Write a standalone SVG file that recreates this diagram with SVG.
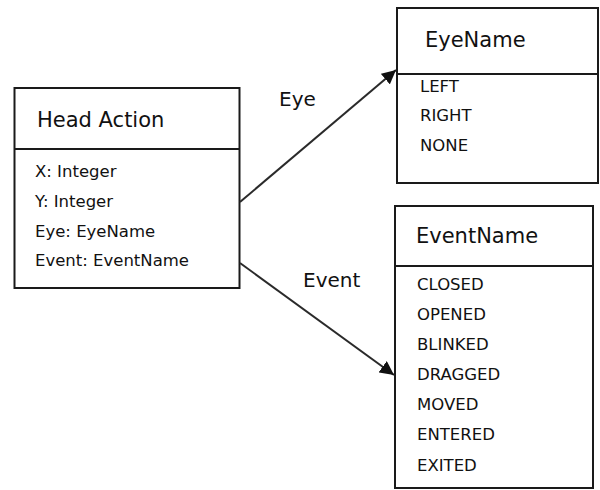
<svg xmlns="http://www.w3.org/2000/svg" width="600" height="490" viewBox="0 0 600 490">
<style>
.box{fill:#fff;stroke:#1a1a1a;stroke-width:2}
.div{stroke:#1a1a1a;stroke-width:2}
.title{font-family:"DejaVu Sans",sans-serif;font-size:21px;fill:#111}
.item{font-family:"DejaVu Sans",sans-serif;font-size:16.5px;fill:#111}
.lbl{font-family:"DejaVu Sans",sans-serif;font-size:20px;fill:#111}
.conn{stroke:#2a2a2a;stroke-width:2;fill:none}
</style>
<defs>
<marker id="arr" viewBox="0 0 10 10" refX="10" refY="5" markerWidth="7" markerHeight="7" orient="auto" markerUnits="strokeWidth">
<path d="M0,0 L10,5 L0,10 z" fill="#111"/>
</marker>
</defs>
<rect width="600" height="490" fill="#fff"/>
<g id="head-action">
<rect class="box" x="14.5" y="88" width="225" height="200"/>
<line class="div" x1="14.5" y1="149" x2="239.5" y2="149"/>
<text class="title" x="37" y="127">Head Action</text>
<text class="item" x="35" y="177">X: Integer</text>
<text class="item" x="35" y="207">Y: Integer</text>
<text class="item" x="35" y="237">Eye: EyeName</text>
<text class="item" x="35" y="266">Event: EventName</text>
</g>
<g id="eye-name">
<rect class="box" x="397" y="8" width="201" height="175"/>
<line class="div" x1="397" y1="74" x2="598" y2="74"/>
<text class="title" x="425" y="47">EyeName</text>
<text class="item" x="420" y="92">LEFT</text>
<text class="item" x="420" y="121">RIGHT</text>
<text class="item" x="420" y="151">NONE</text>
</g>
<g id="event-name">
<rect class="box" x="395" y="206" width="198" height="282"/>
<line class="div" x1="395" y1="266" x2="593" y2="266"/>
<text class="title" x="416" y="243">EventName</text>
<text class="item" x="417" y="290">CLOSED</text>
<text class="item" x="417" y="320">OPENED</text>
<text class="item" x="417" y="350">BLINKED</text>
<text class="item" x="417" y="380">DRAGGED</text>
<text class="item" x="417" y="410">MOVED</text>
<text class="item" x="417" y="440">ENTERED</text>
<text class="item" x="417" y="471">EXITED</text>
</g>
<g id="connectors">
<line class="conn" x1="240" y1="202" x2="396" y2="70" marker-end="url(#arr)"/>
<line class="conn" x1="240" y1="263" x2="394" y2="375" marker-end="url(#arr)"/>
<text class="lbl" x="279" y="106">Eye</text>
<text class="lbl" x="303" y="287">Event</text>
</g>
</svg>
